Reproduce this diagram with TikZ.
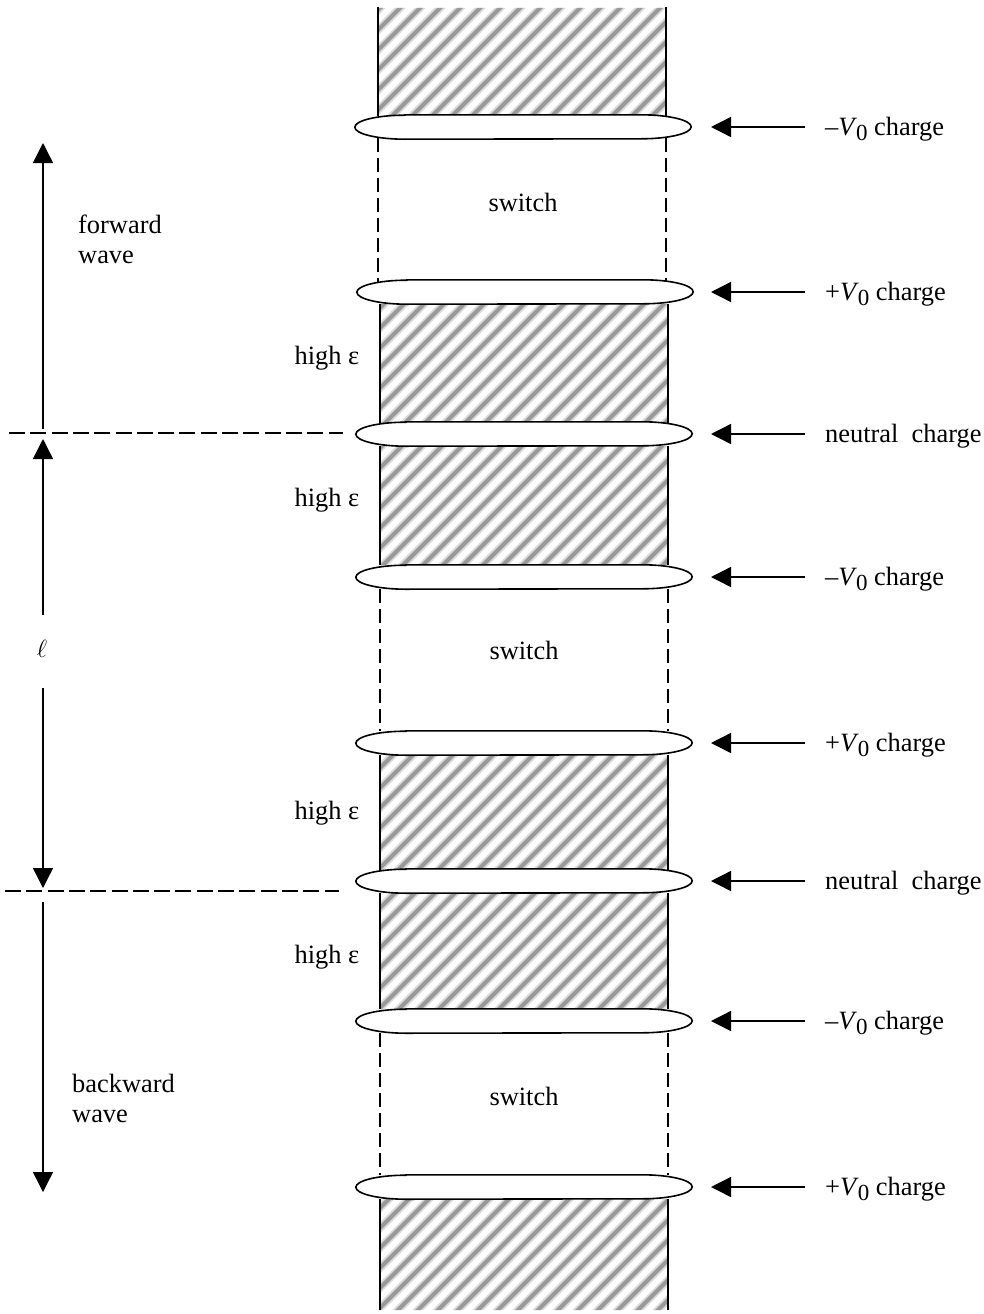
\documentclass[tikz,border=0pt]{standalone}
\usepackage{fontspec}
\setmainfont{Liberation Serif}
\usepackage{amsmath}
\usetikzlibrary{arrows.meta}
\tikzset{
  lbl/.style={inner sep=0pt,text height=20pt,text depth=4pt,font=\fontsize{26.4}{30}\selectfont},
  wavelbl/.style={inner sep=0pt,align=left,anchor=west,font=\fontsize{26.4}{30}\selectfont},
  ringbox/.style={inner sep=0pt,minimum width=336pt,minimum height=24pt},
  ringline/.style={line width=1.6pt,fill=white},
  side/.style={line width=1.4pt},
  dashside/.style={line width=1.4pt,dash pattern=on 14pt off 6pt},
  bigarrow/.style={line width=1.4pt,-{Triangle[length=20pt,width=20pt]}},
  levelline/.style={line width=1.4pt,dash pattern=on 16pt off 5.3pt}
}
\newcommand{\VO}{\textit{V}\kern-1pt\raisebox{-5pt}{\fontsize{23}{26}\selectfont 0}}
\begin{document}
\begin{tikzpicture}[x=1pt,y=-1pt]
\useasboundingbox (0,0) rectangle (984,1314);
% hatched dielectric
\begin{scope}
\clip (378,8) rectangle (666,116) (380,304) rectangle (668,423)
      (380,446) rectangle (668,565) (380,755) rectangle (668,870)
      (380,893) rectangle (668,1009) (380,1199) rectangle (668,1310);
\foreach \s in {388,408,...,1988}
{\draw[line width=8pt,black!14] (\s,0) -- ({\s-1314},1314);
 \draw[line width=4pt,black!40] (\s,0) -- ({\s-1314},1314);}
\end{scope}
% column sides
\foreach \X/\Yt/\Yb in {378/7/116,666/7/116,380/304/423,668/304/423,380/446/565,668/446/565,
  380/755/870,668/755/870,380/893/1009,668/893/1009,380/1199/1310,668/1199/1310}
{\draw[side] (\X,\Yt) -- (\X,\Yb);}
\foreach \X/\Yt/\Yb in {378/138/282,666/138/282,380/589/731,668/589/731,380/1033/1175,668/1033/1175}
{\draw[dashside] (\X,\Yt) -- (\X,\Yb);}
% rings, arrows and charge labels
\foreach \i/\Cx/\Y/\T in {1/523/127/{–\VO{} charge},2/525/292/{+\VO{} charge},3/524/434/{neutral~ charge},
  4/524/577/{–\VO{} charge},5/524/743/{+\VO{} charge},6/524/881/{neutral~ charge},
  7/524/1021/{–\VO{} charge},8/524/1187/{+\VO{} charge}}
{\node[ringbox] (ring\i) at (\Cx,\Y) {};
 \draw[ringline] ([xshift=50pt]ring\i.north west) -- ([xshift=-50pt]ring\i.north east)
   arc[start angle=90,end angle=-90,x radius=50pt,y radius=12pt]
   -- ([xshift=50pt]ring\i.south west)
   arc[start angle=270,end angle=90,x radius=50pt,y radius=12pt] -- cycle;
 \node[lbl,anchor=west] (charge\i) at (825,\Y) {\T};
 \draw[bigarrow,shorten <=20pt] (charge\i.west) -- (711,\Y);}
% inside labels
\node[lbl] (switch1) at (523,203) {switch};
\node[lbl] (switch2) at (524,651) {switch};
\node[lbl] (switch3) at (524,1097) {switch};
\foreach \i/\X/\Y in {1/327/356,2/327/498,3/327/811,4/327/955}
{\node[lbl] (high\i) at (\X,\Y) {high ε};}
% left side
\coordinate (lineAl) at (9,433);
\coordinate (lineAr) at (343,433);
\coordinate (lineBl) at (5,891);
\coordinate (lineBr) at (339,891);
\draw[levelline] (lineAl) -- (lineAr);
\draw[levelline] (lineBl) -- (lineBr);
\coordinate (fwdstart) at (43,429);
\coordinate (fwdend) at (43,143);
\coordinate (ellup) at (43,615);
\coordinate (ellupend) at (43,439);
\coordinate (elldown) at (43,688);
\coordinate (elldownend) at (43,888);
\coordinate (bwdstart) at (43,902);
\coordinate (bwdend) at (43,1192);
\draw[bigarrow] (fwdstart) -- (fwdend);
\draw[bigarrow] (ellup) -- (ellupend);
\draw[bigarrow] (elldown) -- (elldownend);
\draw[bigarrow] (bwdstart) -- (bwdend);
\node[inner sep=0pt,font=\fontsize{23}{26}\selectfont] (ell) at (42,649) {$\ell$};
\node[wavelbl] (fwdlbl) at (78,239) {forward\\wave};
\node[wavelbl] (bwdlbl) at (72,1098) {backward\\wave};
\end{tikzpicture}
\end{document}
